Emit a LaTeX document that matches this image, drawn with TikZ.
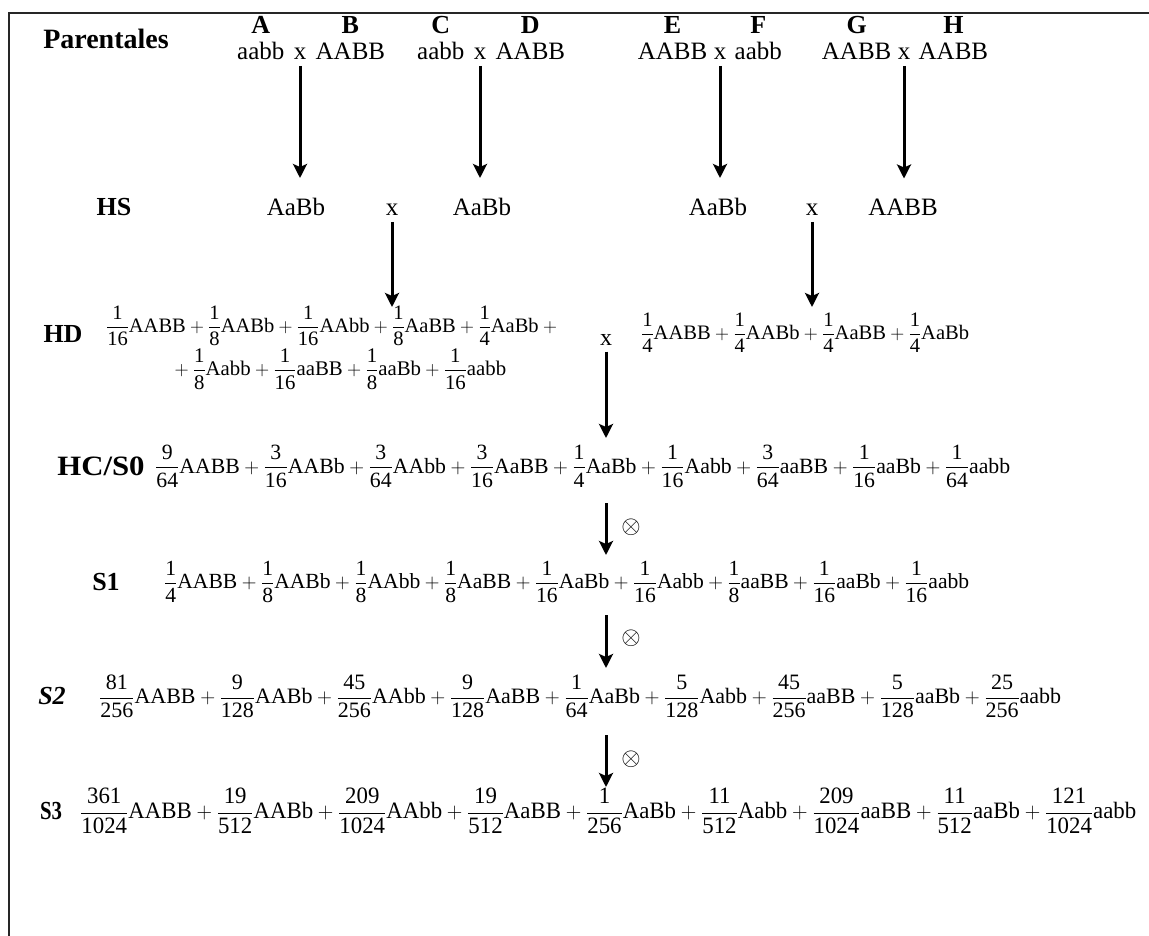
\documentclass[tikz,border=0pt]{standalone}
\usepackage{amsmath}
\usepackage{graphicx}
\usepackage{fontspec}
\setmainfont{Liberation Serif}
\usetikzlibrary{arrows.meta}
\newcommand\fr[2]{\dfrac{\text{#1}}{\text{#2}}}
\newcommand\gty[1]{\text{#1}}
\begin{document}
\begin{tikzpicture}[x=1pt,y=-1pt,
  lab/.style={font=\fontsize{26}{30}\selectfont\bfseries, inner sep=0pt},
  geno/.style={font=\fontsize{25}{30}\selectfont, inner sep=0pt},
  hsg/.style={font=\fontsize{25}{30}\selectfont, inner sep=0pt},
  eq/.style={font=\fontsize{22}{26}\selectfont, inner sep=0pt, anchor=west},
  otim/.style={font=\fontsize{32}{36}\selectfont, inner sep=0pt},
  arr/.style={line width=3pt, -{Stealth[length=14pt,width=14pt,inset=3pt]}},
]
\useasboundingbox (0,0) rectangle (1149,936);
\draw[line width=2pt, black!85] (1149,13) -- (9,13) -- (9,936);

% Parentales row
\node[lab, font=\fontsize{28}{32}\selectfont\bfseries] (par) at (106,39) {Parentales};
\coordinate (rowA) at (0,25);
\node[geno] (x1) at (300,54) {x};
\node[geno, anchor=base east] (g1a) at ([xshift=-9pt]x1.base west) {aabb};
\node[geno, anchor=base west] (g1b) at ([xshift=9pt]x1.base east) {AABB};
\node[geno] (x2) at (480,54) {x};
\node[geno, anchor=base east] (g2a) at ([xshift=-9pt]x2.base west) {aabb};
\node[geno, anchor=base west] (g2b) at ([xshift=9pt]x2.base east) {AABB};
\node[geno] (x3) at (720,54) {x};
\node[geno, anchor=base east] (g3a) at ([xshift=-6pt]x3.base west) {AABB};
\node[geno, anchor=base west] (g3b) at ([xshift=8pt]x3.base east) {aabb};
\node[geno] (x4) at (904,54) {x};
\node[geno, anchor=base east] (g4a) at ([xshift=-6pt]x4.base west) {AABB};
\node[geno, anchor=base west] (g4b) at ([xshift=8pt]x4.base east) {AABB};
\node[lab] (lA) at (g1a |- rowA) {A};
\node[lab] (lB) at (g1b |- rowA) {B};
\node[lab] (lC) at (g2a |- rowA) {C};
\node[lab] (lD) at (g2b |- rowA) {D};
\node[lab] (lE) at (g3a |- rowA) {E};
\node[lab] (lF) at (g3b |- rowA) {F};
\node[lab] (lG) at (g4a |- rowA) {G};
\node[lab] (lH) at (g4b |- rowA) {H};

% HS row
\node[lab] (hs) at (114,207) {HS};
\node[hsg] (hs1) at (296,207) {AaBb};
\node[hsg] (hsx1) at (392,210) {x};
\node[hsg] (hs2) at (482,207) {AaBb};
\node[hsg] (hs3) at (718,207) {AaBb};
\node[hsg] (hsx2) at (812,210) {x};
\node[hsg] (hs4) at (903,207) {AABB};
\foreach \i/\h in {1/hs1,2/hs2,3/hs3,4/hs4}
  \draw[arr] ([yshift=-6pt]x\i.south) -- ([yshift=20pt]x\i.south |- \h.north);

% HD row
\node[lab] (hd) at (63,334) {HD};
\node[eq] (hd1) at (106,326) {\resizebox{455pt}{!}{$\fr{1}{16}\gty{AABB}+\fr{1}{8}\gty{AABb}+\fr{1}{16}\gty{AAbb}+\fr{1}{8}\gty{AaBB}+\fr{1}{4}\gty{AaBb}+{}$}};
\node[eq] (hd2) at (170,369) {\resizebox{336pt}{!}{${}+\fr{1}{8}\gty{Aabb}+\fr{1}{16}\gty{aaBB}+\fr{1}{8}\gty{aaBb}+\fr{1}{16}\gty{aabb}$}};
\node[hsg, font=\fontsize{24}{28}\selectfont] (hdx) at (606,340) {x};
\node[eq] (hdr) at (641,333) {\resizebox{328pt}{!}{$\fr{1}{4}\gty{AABB}+\fr{1}{4}\gty{AABb}+\fr{1}{4}\gty{AaBB}+\fr{1}{4}\gty{AaBb}$}};
\coordinate (t1) at (392,307);
\coordinate (t2) at (812,307);
\draw[arr] ([yshift=-6pt]hsx1.south) -- (t1);
\draw[arr] ([yshift=-6pt]hsx2.south) -- (t2);

% HC/S0
\node[lab, font=\fontsize{28}{32}\selectfont\bfseries] (hcl) at (101,466) {\scalebox{1.1}[1]{HC/S0}};
\node[eq] (hc) at (155,466) {\resizebox{855pt}{!}{$\fr{9}{64}\gty{AABB}+\fr{3}{16}\gty{AABb}+\fr{3}{64}\gty{AAbb}+\fr{3}{16}\gty{AaBB}+\fr{1}{4}\gty{AaBb}+\fr{1}{16}\gty{Aabb}+\fr{3}{64}\gty{aaBB}+\fr{1}{16}\gty{aaBb}+\fr{1}{64}\gty{aabb}$}};
\coordinate (t3) at (606,438);
\draw[arr] ([yshift=-6pt]hdx.south) -- (t3);

% S1
\node[lab] (s1l) at (106,582) {S1};
\node[eq] (s1) at (164,582) {\resizebox{805pt}{!}{$\fr{1}{4}\gty{AABB}+\fr{1}{8}\gty{AABb}+\fr{1}{8}\gty{AAbb}+\fr{1}{8}\gty{AaBB}+\fr{1}{16}\gty{AaBb}+\fr{1}{16}\gty{Aabb}+\fr{1}{8}\gty{aaBB}+\fr{1}{16}\gty{aaBb}+\fr{1}{16}\gty{aabb}$}};

% S2
\node[lab, font=\fontsize{26}{30}\selectfont\bfseries\itshape] (s2l) at (52,696) {S2};
\node[eq] (s2) at (99,696) {\resizebox{962pt}{!}{$\fr{81}{256}\gty{AABB}+\fr{9}{128}\gty{AABb}+\fr{45}{256}\gty{AAbb}+\fr{9}{128}\gty{AaBB}+\fr{1}{64}\gty{AaBb}+\fr{5}{128}\gty{Aabb}+\fr{45}{256}\gty{aaBB}+\fr{5}{128}\gty{aaBb}+\fr{25}{256}\gty{aabb}$}};

% S3
\node[lab] (s3l) at (51,811) {\scalebox{0.8}[1]{S3}};
\node[eq] (s3) at (80,811) {\resizebox*{1056pt}{46pt}{$\fr{361}{1024}\gty{AABB}+\fr{19}{512}\gty{AABb}+\fr{209}{1024}\gty{AAbb}+\fr{19}{512}\gty{AaBB}+\fr{1}{256}\gty{AaBb}+\fr{11}{512}\gty{Aabb}+\fr{209}{1024}\gty{aaBB}+\fr{11}{512}\gty{aaBb}+\fr{121}{1024}\gty{aabb}$}};

% selfing arrows
\coordinate (o1s) at (606,503); \coordinate (o1e) at (606,555);
\coordinate (o2s) at (606,615); \coordinate (o2e) at (606,668);
\coordinate (o3s) at (606,735); \coordinate (o3e) at (606,787);
\draw[arr] (o1s) -- (o1e);
\draw[arr] (o2s) -- (o2e);
\draw[arr] (o3s) -- (o3e);
\node[otim] (ot1) at (631,527) {$\otimes$};
\node[otim] (ot2) at (631,638) {$\otimes$};
\node[otim] (ot3) at (631,759) {$\otimes$};
\end{tikzpicture}
\end{document}
